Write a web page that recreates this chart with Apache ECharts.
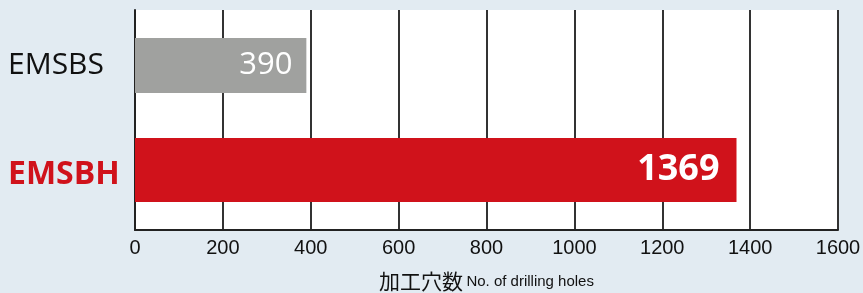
<!DOCTYPE html>
<html>
<head>
<meta charset="utf-8">
<script src="https://cdn.jsdelivr.net/npm/echarts@6/dist/echarts.min.js"></script>
<style>
  html, body { margin: 0; padding: 0; background: #e2ebf2; }
  #main { width: 863px; height: 293px; }
</style>
</head>
<body>
<div id="main"></div>
<script>
var categories = ['EMSBS', 'EMSBH'];
var emsbsValues = [390, null];
var emsbhValues = [null, 1369];
var xTicks = [0, 200, 400, 600, 800, 1000, 1200, 1400, 1600];

var myChart = echarts.init(document.getElementById('main'));

var option = {
    backgroundColor: '#e2ebf2',
    animation: false,
    grid: {
        left: 135,
        right: 25,
        top: 10,
        bottom: 63,
        outerBoundsMode: 'none',
        containLabel: false,
        show: true,
        backgroundColor: '#ffffff',
        borderWidth: 0
    },
    xAxis: {
        type: 'value',
        min: xTicks[0],
        max: xTicks[xTicks.length - 1],
        interval: 200,
        axisLine: { show: true, lineStyle: { color: '#222', width: 2 } },
        axisTick: { show: false },
        splitLine: { show: true, lineStyle: { color: '#333', width: 2 } },
        axisLabel: {
            color: '#111',
            fontSize: 20,
            fontFamily: 'Liberation Sans, Arial, sans-serif',
            margin: 8,
            formatter: function (v) { return String(v); }
        },
        name: '{cn|加工穴数} {en|No. of drilling holes}',
        nameLocation: 'middle',
        nameGap: 41,
        nameTextStyle: {
            rich: {
                cn: { fontSize: 21, color: '#111', fontFamily: 'Noto Sans CJK JP' },
                en: { fontSize: 15, color: '#111', fontFamily: 'Liberation Sans, Arial, sans-serif' }
            }
        }
    },
    yAxis: {
        type: 'category',
        inverse: true,
        data: categories,
        axisLine: { show: true, lineStyle: { color: '#222', width: 2 } },
        axisTick: { show: false },
        splitLine: { show: false },
        axisLabel: {
            align: 'left',
            margin: 127,
            formatter: function (v) {
                return v === 'EMSBH' ? '{h|' + v + '}' : '{s|' + v + '}';
            },
            rich: {
                s: { fontSize: 30, color: '#111', fontFamily: 'Open Sans, sans-serif', fontWeight: 'normal' },
                h: { fontSize: 32, color: '#d0121b', fontFamily: 'Open Sans, sans-serif', fontWeight: 'bold' }
            }
        }
    },
    series: [
        {
            name: 'EMSBS',
            type: 'bar',
            data: emsbsValues,
            barWidth: 55,
            barGap: '-118%',
            itemStyle: { color: '#a0a19f' },
            label: {
                show: true,
                position: 'insideRight',
                distance: 14,
                color: '#ffffff',
                fontSize: 31,
                fontFamily: 'Open Sans, sans-serif'
            }
        },
        {
            name: 'EMSBH',
            type: 'bar',
            data: emsbhValues,
            barWidth: 64,
            itemStyle: { color: '#d0121b' },
            label: {
                show: true,
                position: 'insideRight',
                distance: 17,
                color: '#ffffff',
                fontSize: 36,
                fontWeight: 'bold',
                fontFamily: 'Open Sans, sans-serif'
            }
        }
    ]
};

myChart.setOption(option);
</script>
</body>
</html>
